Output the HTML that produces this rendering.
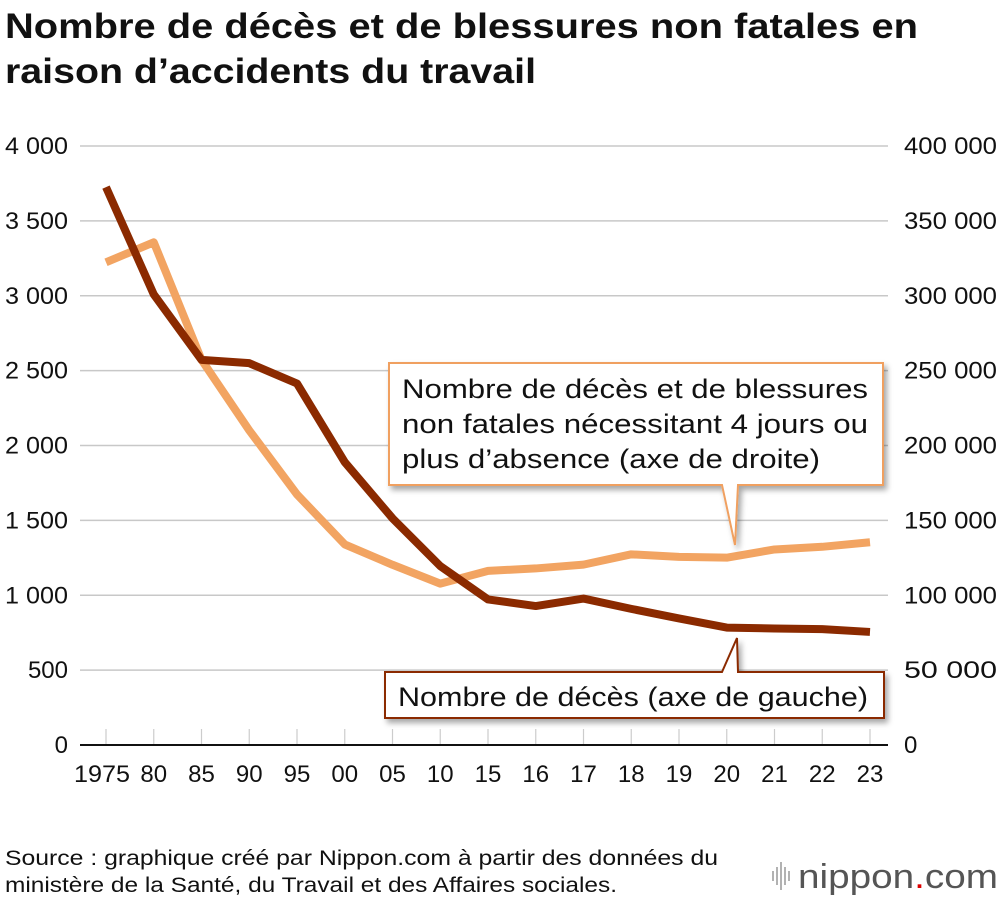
<!DOCTYPE html>
<html><head><meta charset="utf-8"><style>
body{margin:0;background:#fff;font-family:"Liberation Sans",Arial,sans-serif;}
#wrap{position:relative;width:1000px;height:900px;overflow:hidden;}
</style></head><body>
<div id="wrap">
<svg id="chart" width="1000" height="900" xmlns="http://www.w3.org/2000/svg">
<defs><filter id="sh" x="-10%" y="-10%" width="130%" height="140%"><feDropShadow dx="3" dy="4" stdDeviation="3" flood-color="#000" flood-opacity="0.35"/></filter></defs>
<text x="5" y="38" font-size="35" font-weight="bold" fill="#111" textLength="913" lengthAdjust="spacingAndGlyphs">Nombre de décès et de blessures non fatales en</text>
<text x="5" y="83" font-size="35" font-weight="bold" fill="#111" textLength="531" lengthAdjust="spacingAndGlyphs">raison d’accidents du travail</text>
<g id="grid"></g><g id="lines"></g><g id="labels"></g>
<g>
<path d="M389,363 H883 V485 H738 L735,545 L722,485 H389 Z" fill="#fff" stroke="#f0a060" stroke-width="2" filter="url(#sh)"/>
<text x="402" y="398" font-size="27" fill="#111" textLength="466" lengthAdjust="spacingAndGlyphs">Nombre de décès et de blessures</text>
<text x="402" y="433" font-size="27" fill="#111" textLength="466" lengthAdjust="spacingAndGlyphs">non fatales nécessitant 4 jours ou</text>
<text x="402" y="468" font-size="27" fill="#111" textLength="418" lengthAdjust="spacingAndGlyphs">plus d’absence (axe de droite)</text>
</g>
<g>
<path d="M385,672 H722 L737,638 L738,672 H884 V718 H385 Z" fill="#fff" stroke="#8b2a00" stroke-width="2" filter="url(#sh)"/>
<text x="398" y="706" font-size="27" fill="#111" textLength="470" lengthAdjust="spacingAndGlyphs">Nombre de décès (axe de gauche)</text>
</g>
<g>
<text x="5" y="865" font-size="21" fill="#111" textLength="713" lengthAdjust="spacingAndGlyphs">Source : graphique créé par Nippon.com à partir des données du</text>
<text x="5" y="892" font-size="21" fill="#111" textLength="612" lengthAdjust="spacingAndGlyphs">ministère de la Santé, du Travail et des Affaires sociales.</text>
</g>
<g>
<g stroke="#999" stroke-width="1.5"><line x1="773" y1="871" x2="773" y2="881"/><line x1="777" y1="867" x2="777" y2="885"/><line x1="781" y1="862" x2="781" y2="890"/><line x1="785" y1="867" x2="785" y2="885"/><line x1="789" y1="871" x2="789" y2="881"/></g>
<text x="798" y="888" font-size="34" fill="#555" textLength="200" lengthAdjust="spacingAndGlyphs">nippon<tspan fill="#d00">.</tspan>com</text>
</g>
</svg>
</div>
<script>
const categories=["1975","80","85","90","95","00","05","10","15","16","17","18","19","20","21","22","23"];
const deaths=[3725,3009,2572,2550,2414,1889,1514,1195,972,928,978,909,845,784,778,774,755];
const injuries=[322322,335706,257240,210108,167316,133948,120354,107759,116311,117910,120460,127329,125611,125115,130586,132355,135371];
const leftTicks=[0,500,1000,1500,2000,2500,3000,3500,4000];
const leftTickLabels=["0","500","1 000","1 500","2 000","2 500","3 000","3 500","4 000"];
const rightTickLabels=["0","50 000","100 000","150 000","200 000","250 000","300 000","350 000","400 000"];
const NS="http://www.w3.org/2000/svg";
const x0=106,x1=870,yb=745,yt=146;
function xs(i){return x0+i*(x1-x0)/(categories.length-1);}
function yl(v){return yb-v/4000*(yb-yt);}
function yr(v){return yb-v/400000*(yb-yt);}
function mk(tag,a,p){const e=document.createElementNS(NS,tag);for(const k in a)e.setAttribute(k,a[k]);p.appendChild(e);return e;}
const grid=document.getElementById('grid'),lines=document.getElementById('lines'),labels=document.getElementById('labels');
leftTicks.forEach((t,i)=>{
  const y=yl(t);
  if(t>0){const g=mk('line',{x1:80,x2:888,y1:y,y2:y,stroke:'#c8c8c8','stroke-width':1.5},grid);
  
  }
  const l=mk('text',{x:68,y:y+8,'font-size':24,fill:'#111','text-anchor':'end'},labels);l.textContent=leftTickLabels[i];
  if(leftTickLabels[i].length>3){l.setAttribute('textLength',63);l.setAttribute('lengthAdjust','spacingAndGlyphs');}
  
  
  const r=mk('text',{x:904,y:y+8,'font-size':24,fill:'#111'},labels);r.textContent=rightTickLabels[i];
  if(rightTickLabels[i].length>5){r.setAttribute('textLength',93);r.setAttribute('lengthAdjust','spacingAndGlyphs');}
  else if(rightTickLabels[i].length>1){r.setAttribute('textLength',75);r.setAttribute('lengthAdjust','spacingAndGlyphs');}
  
  
});
categories.forEach((c,i)=>{
  const x=xs(i);
  const tk=mk('line',{x1:x,x2:x,y1:729,y2:745,stroke:'#ccc','stroke-width':1.2},grid);
  
  
  const t=mk('text',{x:x,y:782,'font-size':24,fill:'#111','text-anchor':'middle'},labels);t.textContent=c;
  if(c.length===4){t.setAttribute('textLength',56);t.setAttribute('lengthAdjust','spacingAndGlyphs');t.setAttribute('x',x-4);}
  
  
});
const ax=mk('line',{x1:80,x2:888,y1:yb,y2:yb,stroke:'#111','stroke-width':2},grid);


const p2=mk('polyline',{points:injuries.map((v,i)=>xs(i)+','+yr(v)).join(' '),fill:'none',stroke:'#f2a462','stroke-width':8,'stroke-linejoin':'round'},lines);


const p1=mk('polyline',{points:deaths.map((v,i)=>xs(i)+','+yl(v)).join(' '),fill:'none',stroke:'#8b2a00','stroke-width':8,'stroke-linejoin':'round'},lines);


</script>
</body></html>
